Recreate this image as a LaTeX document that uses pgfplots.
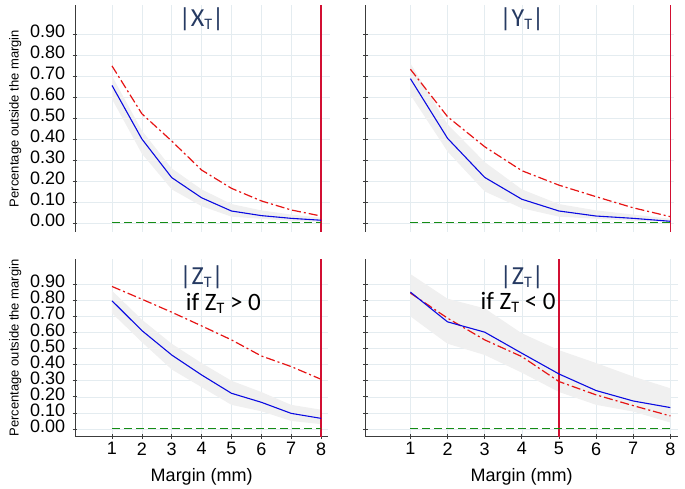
\documentclass[border=0pt]{standalone}
\usepackage{fontspec}
\setmainfont{Liberation Sans}
\newfontfamily\calfont{Carlito}
\usepackage{pgfplots}
\pgfplotsset{compat=1.18}
\definecolor{ttl}{RGB}{38,58,98}
\definecolor{gridc}{RGB}{228,236,240}
\definecolor{bandc}{RGB}{240,240,240}
\definecolor{bl}{RGB}{10,10,225}
\definecolor{rd}{RGB}{230,20,20}
\definecolor{gr}{RGB}{20,140,20}
\definecolor{vl}{RGB}{210,15,50}
\definecolor{axc}{RGB}{60,60,60}
\newcommand{\ttlT}[1]{{\calfont\fontsize{26}{28}\selectfont\textcolor{ttl}{|#1\raisebox{-0.12em}{\fontsize{16}{16}\selectfont T}|}}}
\newcommand{\cond}[1]{{\calfont\fontsize{25}{27}\selectfont if Z\raisebox{-0.12em}{\fontsize{16}{16}\selectfont T} #1 0}}
\pgfplotsset{
  base/.style={
    scale only axis,
    /pgf/number format/assume math mode=true,
    grid=major,
    major grid style={draw=gridc,line width=0.6pt},
    tick style={draw=axc,line width=0.7pt},
    tick align=outside,
    major tick length=4.5pt,
    xtick={1,2,3,4,5,6,7,8},
    ytick={0,0.1,0.2,0.3,0.4,0.5,0.6,0.7,0.8,0.9},
    tick label style={font=\fontsize{18}{20}\selectfont},
    yticklabel style={xshift=-4pt, inner ysep=0pt, text height=1.35ex, text depth=0pt},
    clip=false,
  },
  ylabs/.style={
    yticklabels={0.00,0.10,0.20,0.30,0.40,0.50,0.60,0.70,0.80,0.90},
    ylabel={Percentage outside the margin},
    ylabel style={font=\fontsize{13}{14}\selectfont, yshift=2pt},
  },
  nolabs/.style={yticklabels={}},
  noarrows/.style={
    axis line style={-,draw=axc,line width=0.8pt},
    every outer x axis line/.append style={-},
    every outer y axis line/.append style={-},
  },
  toprow/.style={
    axis y line=left, axis x line=bottom,
    noarrows,
    x axis line style={draw=none},
    xticklabels={},
    xtick style={draw=none},
    ymin=-0.043, ymax=1.038, height=227pt,
  },
  botrow/.style={
    axis y line=left, axis x line=bottom,
    noarrows,
    xlabel={Margin (mm)},
    xlabel style={font=\fontsize{18}{20}\selectfont, yshift=-6pt},
    ymin=-0.048, ymax=1.055, height=177.4pt,
  },
  bandst/.style={fill=bandc, draw=none},
  blueline/.style={color=bl, line width=1.1pt},
  redline/.style={color=rd, line width=1.2pt, dash pattern=on 9pt off 3pt on 2pt off 3pt},
  greenline/.style={color=gr, line width=1pt, dash pattern=on 8pt off 4pt},
  vertline/.style={color=vl, solid, line width=1.5pt},
}
\begin{document}
\begin{tikzpicture}
\useasboundingbox (0,0) rectangle (685pt,489pt);
% ---------- top left: |X_T|
\begin{axis}[base, ylabs, toprow, at={(75pt,257pt)}, anchor=south west,
  width=255pt, xmin=-0.239, xmax=8.3]
\addplot[bandst] coordinates {(1,0.70) (2,0.44) (3,0.26) (4,0.16) (5,0.09) (6,0.06) (7,0.04) (8,0.025)
  (8,0.005) (7,0.01) (6,0.02) (5,0.03) (4,0.08) (3,0.16) (2,0.33) (1,0.59)} -- cycle;
\addplot[vertline] coordinates {(8,-0.043) (8,1.038)};
\addplot[greenline] coordinates {(1,0) (8,0)};
\addplot[redline] coordinates {(1,0.748) (2,0.52) (3,0.39) (4,0.252) (5,0.165) (6,0.105) (7,0.062) (8,0.033)};
\addplot[blueline] coordinates {(1,0.655) (2,0.40) (3,0.216) (4,0.12) (5,0.057) (6,0.035) (7,0.022) (8,0.013)};
\node at (axis cs:4,0.97) {\ttlT{X}};
\end{axis}
% ---------- top right: |Y_T|
\begin{axis}[base, nolabs, toprow, at={(365.4pt,257pt)}, anchor=south west,
  width=308.7pt, xmin=-0.212, xmax=8.1]
\addplot[bandst] coordinates {(1,0.76) (2,0.47) (3,0.29) (4,0.16) (5,0.09) (6,0.06) (7,0.04) (8,0.02)
  (8,0.005) (7,0.01) (6,0.02) (5,0.03) (4,0.07) (3,0.15) (2,0.34) (1,0.61)} -- cycle;
\addplot[vertline] coordinates {(8,-0.043) (8,1.038)};
\addplot[greenline] coordinates {(1,0) (8,0)};
\addplot[redline] coordinates {(1,0.732) (2,0.506) (3,0.363) (4,0.249) (5,0.18) (6,0.125) (7,0.072) (8,0.03)};
\addplot[blueline] coordinates {(1,0.687) (2,0.403) (3,0.217) (4,0.113) (5,0.057) (6,0.033) (7,0.022) (8,0.008)};
\node at (axis cs:4,0.97) {\ttlT{Y}};
\end{axis}
% ---------- bottom left: |Z_T| if Z_T > 0
\begin{axis}[base, ylabs, botrow, at={(75pt,52.3pt)}, anchor=south west,
  width=253.5pt, xmin=-0.239, xmax=8.25]
\addplot[bandst] coordinates {(1,0.86) (2,0.68) (3,0.53) (4,0.41) (5,0.30) (6,0.23) (7,0.15) (8,0.12)
  (8,0.03) (7,0.05) (6,0.11) (5,0.15) (4,0.26) (3,0.37) (2,0.54) (1,0.72)} -- cycle;
\addplot[vertline] coordinates {(8,-0.048) (8,1.055)};
\addplot[greenline] coordinates {(1,0) (8,0)};
\addplot[redline] coordinates {(1,0.886) (2,0.807) (3,0.726) (4,0.641) (5,0.554) (6,0.454) (7,0.388) (8,0.309)};
\addplot[blueline] coordinates {(1,0.797) (2,0.612) (3,0.46) (4,0.336) (5,0.222) (6,0.166) (7,0.097) (8,0.066)};
\node at (axis cs:4,0.945) {\ttlT{Z}};
\node at (axis cs:4.73,0.78) {\cond{>}};
\end{axis}
% ---------- bottom right: |Z_T| if Z_T < 0
\begin{axis}[base, nolabs, botrow, at={(365.4pt,52.3pt)}, anchor=south west,
  width=312.4pt, xmin=-0.212, xmax=8.2]
\addplot[bandst] coordinates {(1,0.963) (2,0.81) (3,0.75) (4,0.595) (5,0.49) (6,0.41) (7,0.326) (8,0.253)
  (8,0.04) (7,0.108) (6,0.15) (5,0.23) (4,0.35) (3,0.46) (2,0.53) (1,0.70)} -- cycle;
\addplot[vertline] coordinates {(5,-0.048) (5,1.055)};
\addplot[greenline] coordinates {(1,0) (8,0)};
\addplot[redline] coordinates {(1,0.845) (2,0.689) (3,0.554) (4,0.45) (5,0.295) (6,0.212) (7,0.145) (8,0.081)};
\addplot[blueline] coordinates {(1,0.851) (2,0.666) (3,0.602) (4,0.471) (5,0.342) (6,0.239) (7,0.174) (8,0.133)};
\node at (axis cs:4,0.945) {\ttlT{Z}};
\node at (axis cs:3.9,0.79) {\cond{<}};
\end{axis}
\end{tikzpicture}
\end{document}
